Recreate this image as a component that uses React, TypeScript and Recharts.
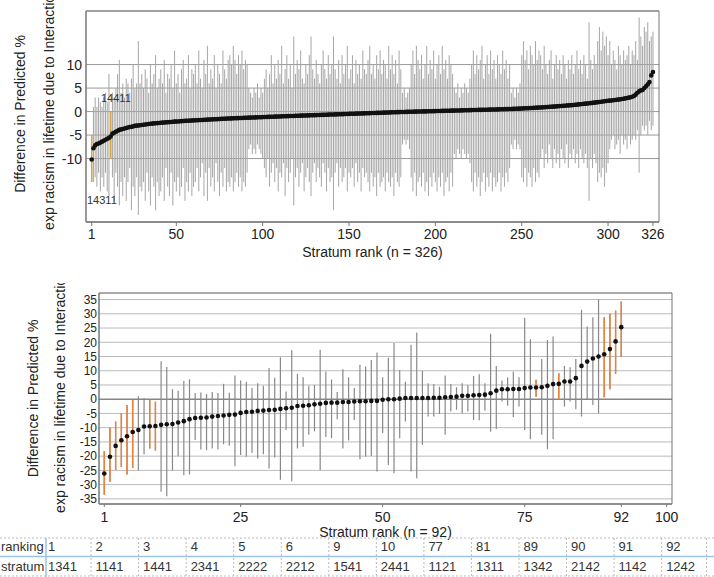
import React from 'react';
import {
  ScatterChart,
  Scatter,
  XAxis,
  YAxis,
  CartesianGrid,
  ErrorBar,
  ReferenceArea,
  ReferenceLine,
} from 'recharts';

// ---- top panel: 326 strata ----
const TOP_DOTS = [
  -10.2, -7.8, -7.2, -6.9, -6.8, -6.6, -6.4, -6.2, -6.0, -5.8,
  -5.6, -5.3, -4.7, -4.5, -4.3, -4.1, -3.9, -3.8, -3.7, -3.6,
  -3.5, -3.4, -3.3, -3.25, -3.15, -3.05, -3.0, -2.95, -2.9, -2.85,
  -2.8, -2.75, -2.7, -2.65, -2.6, -2.56, -2.52, -2.48, -2.45, -2.42,
  -2.39, -2.36, -2.33, -2.3, -2.27, -2.24, -2.21, -2.18, -2.15, -2.12,
  -2.1, -2.07, -2.04, -2.01, -1.98, -1.96, -1.94, -1.92, -1.9, -1.88,
  -1.86, -1.84, -1.82, -1.8, -1.78, -1.76, -1.74, -1.72, -1.7, -1.68,
  -1.66, -1.64, -1.62, -1.6, -1.58, -1.56, -1.54, -1.52, -1.5, -1.48,
  -1.46, -1.45, -1.43, -1.42, -1.4, -1.39, -1.37, -1.36, -1.34, -1.33,
  -1.31, -1.3, -1.28, -1.27, -1.25, -1.24, -1.22, -1.21, -1.2, -1.18,
  -1.17, -1.15, -1.14, -1.12, -1.11, -1.1, -1.08, -1.07, -1.05, -1.04,
  -1.02, -1.01, -1.0, -0.98, -0.97, -0.95, -0.94, -0.93, -0.91, -0.9,
  -0.88, -0.87, -0.86, -0.84, -0.83, -0.82, -0.8, -0.79, -0.78, -0.76,
  -0.75, -0.74, -0.72, -0.71, -0.7, -0.68, -0.67, -0.66, -0.64, -0.63,
  -0.62, -0.6, -0.59, -0.58, -0.56, -0.55, -0.54, -0.52, -0.51, -0.5,
  -0.48, -0.47, -0.46, -0.44, -0.43, -0.42, -0.4, -0.39, -0.38, -0.36,
  -0.35, -0.34, -0.32, -0.31, -0.3, -0.28, -0.27, -0.26, -0.24, -0.23,
  -0.22, -0.2, -0.19, -0.18, -0.16, -0.15, -0.14, -0.12, -0.11, -0.1,
  -0.09, -0.08, -0.07, -0.06, -0.05, -0.04, -0.03, -0.02, -0.01, 0.0,
  0.01, 0.02, 0.03, 0.04, 0.05, 0.06, 0.07, 0.08, 0.09, 0.1,
  0.11, 0.12, 0.13, 0.14, 0.15, 0.16, 0.17, 0.18, 0.19, 0.2,
  0.21, 0.22, 0.23, 0.24, 0.25, 0.26, 0.27, 0.28, 0.29, 0.3,
  0.31, 0.32, 0.33, 0.34, 0.35, 0.36, 0.37, 0.38, 0.39, 0.4,
  0.41, 0.42, 0.43, 0.44, 0.45, 0.46, 0.47, 0.48, 0.5, 0.51,
  0.52, 0.53, 0.55, 0.56, 0.57, 0.59, 0.6, 0.62, 0.63, 0.65,
  0.67, 0.69, 0.71, 0.73, 0.75, 0.77, 0.79, 0.81, 0.83, 0.85,
  0.87, 0.9, 0.92, 0.95, 0.97, 1.0, 1.02, 1.05, 1.08, 1.1,
  1.13, 1.16, 1.19, 1.22, 1.25, 1.28, 1.31, 1.34, 1.37, 1.4,
  1.44, 1.48, 1.52, 1.56, 1.6, 1.64, 1.68, 1.72, 1.76, 1.8,
  1.85, 1.9, 1.95, 2.0, 2.05, 2.1, 2.15, 2.2, 2.25, 2.3,
  2.32, 2.36, 2.4, 2.45, 2.5, 2.55, 2.6, 2.66, 2.72, 2.8,
  2.88, 2.96, 3.05, 3.15, 3.3, 3.6, 4.0, 4.3, 4.5, 4.6,
  5.0, 5.4, 5.8, 6.3, 7.7, 8.4,
];

const TOP_HI = [
  -5, 1, 3, 1, 3, 2, 1, 3, 4, 2,
  8, 0, 4, 3, 5, 8, 11, 4, 6, 3,
  7, 6, 4, 7, 10, 5, 6, 15, 6, 8,
  5, 9, 7, 4, 10, 6, 8, 12, 5, 7,
  9, 6, 11, 4, 8, 7, 10, 5, 13, 6,
  8, 4, 9, 11, 6, 7, 12, 5, 9, 8,
  10, 6, 13, 7, 5, 11, 8, 14, 6, 9,
  7, 12, 5, 10, 8, 6, 13, 9, 7, 11,
  12, 10, 14, 11, 8, 12, 10, 13, 9, 11,
  10, 5, 4, 3, 5, 4, 6, 3, 5, 4,
  7, 9, 5, 8, 12, 6, 10, 7, 11, 8,
  14, 6, 9, 12, 7, 10, 5, 16, 8, 11,
  9, 13, 7, 6, 10, 8, 12, 16, 9, 7,
  11, 8, 6, 10, 13, 9, 7, 12, 8, 10,
  16, 9, 7, 11, 6, 12, 8, 10, 14, 7,
  9, 12, 6, 11, 8, 10, 7, 13, 9, 8,
  11, 14, 8, 10, 7, 12, 9, 13, 8, 11,
  10, 7, 14, 9, 12, 8, 11, 6, 13, 9,
  4, 5, 3, 4, 5, 10, 13, 8, 14, 11,
  9, 12, 7, 10, 14, 8, 11, 9, 13, 7,
  10, 12, 8, 14, 9, 11, 7, 12, 10, 8,
  5, 4, 6, 3, 5, 4, 6, 5, 4, 7,
  10, 13, 8, 12, 9, 11, 14, 7, 10, 12,
  8, 13, 9, 11, 7, 12, 10, 8, 13, 9,
  11, 7, 10, 4, 5, 3, 5, 4, 6, 12,
  15, 11, 13, 9, 14, 12, 10, 15, 11, 13,
  12, 9, 14, 10, 8, 11, 13, 7, 10, 12,
  9, 11, 8, 12, 10, 7, 11, 9, 12, 8,
  10, 13, 9, 11, 8, 12, 10, 7, 19, 11,
  9, 12, 10, 15, 18, 13, 17, 14, 16, 12,
  15, 10, 13, 11, 9, 14, 12, 10, 13, 11,
  12, 14, 10, 13, 12, 15, 11, 20, 16, 14,
  18, 17, 19, 15, 16, 17,
];

const TOP_LO = [
  -15, -15, -14, -16, -13, -17, -14, -16, -13, -17,
  -18, -10, -14, -19, -13, -16, -20, -15, -18, -14,
  -19, -15, -12, -21, -16, -18, -14, -22, -16, -17,
  -15, -19, -13, -17, -20, -14, -16, -21, -15, -18,
  -17, -14, -19, -12, -16, -18, -13, -20, -15, -17,
  -14, -18, -16, -12, -19, -15, -17, -13, -18, -16,
  -15, -12, -17, -14, -11, -18, -13, -19, -12, -16,
  -14, -17, -11, -15, -18, -13, -16, -12, -17, -15,
  -16, -14, -17, -15, -13, -16, -14, -17, -15, -16,
  -13, -8, -7, -9, -8, -9, -7, -8, -9, -10,
  -12, -14, -10, -16, -13, -11, -15, -12, -17, -13,
  -14, -11, -18, -12, -15, -13, -10, -20, -14, -12,
  -16, -13, -11, -17, -14, -12, -15, -18, -13, -11,
  -15, -12, -14, -16, -11, -13, -17, -12, -15, -14,
  -21, -13, -11, -16, -12, -15, -14, -12, -17, -13,
  -14, -12, -16, -11, -15, -13, -17, -12, -14, -13,
  -15, -17, -13, -16, -14, -18, -13, -16, -15, -14,
  -17, -13, -15, -16, -14, -18, -13, -15, -16, -14,
  -7, -6, -7, -6, -8, -14, -17, -13, -18, -15,
  -14, -16, -13, -17, -15, -18, -14, -16, -13, -15,
  -17, -14, -16, -13, -18, -15, -14, -17, -13, -16,
  -9, -10, -8, -9, -10, -8, -9, -10, -9, -11,
  -15, -17, -13, -16, -14, -18, -15, -13, -17, -14,
  -16, -13, -17, -14, -16, -15, -13, -17, -14, -16,
  -13, -15, -12, -7, -8, -6, -8, -7, -8, -14,
  -15, -12, -16, -13, -14, -16, -12, -15, -13, -14,
  -10, -8, -12, -9, -11, -7, -10, -12, -8, -11,
  -9, -12, -8, -10, -11, -7, -12, -9, -10, -8,
  -11, -9, -12, -8, -10, -11, -9, -12, -19, -10,
  -12, -9, -11, -15, -13, -14, -12, -16, -13, -11,
  -8, -6, -5, -8, -7, -6, -9, -5, -7, -6,
  -8, -5, -7, -6, -5, -6, -4, -13, -5, -3,
  -4, -3, -5, -2, -4, -3,
];

const TOP_MARKED = [1, 12];
const TOP_X_TICKS = [1, 50, 100, 150, 200, 250, 300, 326];
const TOP_Y_TICKS = [-10, -5, 0, 5, 10];

// ---- bottom panel: 92 strata ----
const BOT_DOTS = [
  -26.1, -20.2, -16.4, -14.4, -13.0, -11.5, -10.8, -9.6, -9.5, -9.4,
  -9.0, -8.8, -8.7, -8.2, -7.7, -7.0, -6.6, -6.5, -6.4, -6.1,
  -5.9, -5.7, -5.5, -5.4, -4.8, -4.5, -4.4, -4.1, -4.0, -3.8,
  -3.7, -3.4, -3.2, -3.0, -2.4, -2.3, -2.1, -1.8, -1.6, -1.3,
  -1.2, -1.2, -1.0, -1.0, -0.8, -0.7, -0.7, -0.6, -0.6, -0.2,
  0.0, 0.0, 0.2, 0.4, 0.4, 0.4, 0.4, 0.4, 0.5, 0.5,
  0.7, 0.8, 0.9, 1.2, 1.2, 1.4, 1.5, 1.6, 2.1, 3.0,
  3.5, 3.5, 3.6, 3.6, 3.9, 4.1, 4.1, 4.2, 4.7, 5.3,
  5.4, 6.2, 6.2, 7.4, 11.7, 13.2, 14.3, 15.0, 15.8, 17.6,
  20.3, 25.3,
];

const BOT_HI = [
  -18.2, -9.9, -7.8, -5.0, -2.0, -0.2, 1.0, 0.4, -0.2, -0.9,
  13.3, 11.3, 3.5, 3.0, 6.4, 7.0, 2.2, 2.4, 1.8, 2.5,
  2.2, 5.4, 2.3, 8.3, 6.6, 6.1, 3.9, 5.6, 4.7, 11.0,
  7.5, 14.7, 2.7, 17.2, 8.9, 7.7, 4.7, 5.0, 17.4, 9.7,
  6.9, 2.5, 10.5, 7.7, 3.9, 12.1, 11.5, 13.8, 16.4, 7.7,
  14.6, 19.7, 10.3, 6.1, 19.1, 23.4, 10.0, 5.6, 5.3, 4.4,
  8.3, 5.3, 4.2, 5.6, 5.0, 8.2, 8.8, 5.6, 23.0, 11.7,
  6.6, 7.7, 9.7, 7.7, 28.5, 21.1, 6.8, 14.1, 20.8, 22.0,
  9.1, 11.7, 11.2, 14.1, 31.4, 25.5, 28.8, 35.1, 28.8, 30.0,
  31.1, 34.3,
];

const BOT_LO = [
  -33.6, -29.0, -24.9, -23.8, -26.4, -24.2, -25.0, -19.3, -17.3, -18.0,
  -32.5, -34.1, -25.0, -20.0, -26.7, -26.4, -14.3, -17.7, -17.9, -17.3,
  -17.6, -15.8, -16.3, -23.5, -19.6, -20.2, -18.9, -20.8, -19.3, -24.3,
  -20.5, -28.3, -10.8, -28.8, -17.3, -16.7, -12.5, -11.3, -24.9, -13.3,
  -13.7, -7.0, -17.3, -14.5, -7.3, -21.1, -20.1, -19.9, -25.4, -11.9,
  -23.1, -26.0, -13.7, -7.8, -25.4, -27.8, -16.0, -6.1, -6.1, -5.2,
  -12.5, -4.3, -3.7, -4.9, -4.3, -7.3, -7.4, -4.0, -11.4, -10.5,
  -0.8, -2.3, -6.3, -2.6, -10.8, -14.1, 0.9, -12.5, -17.6, -14.1,
  0.0, -2.6, -0.8, -3.5, -6.1, -0.2, -2.0, -4.9, 0.7, 3.5,
  8.9, 14.8,
];

const BOT_MARKED = [1, 2, 3, 4, 5, 6, 9, 10, 77, 81, 89, 90, 91, 92];
const BOT_X_TICKS = [1, 25, 50, 75, 92, 100];
const BOT_Y_TICKS = [-35, -30, -25, -20, -15, -10, -5, 0, 5, 10, 15, 20, 25, 30, 35];

const Y_LABEL_1 = 'Difference in Predicted %';
const Y_LABEL_2 = 'exp racism in lifetime due to Interaction';

const TABLE_RANKING = ['1', '2', '3', '4', '5', '6', '9', '10', '77', '81', '89', '90', '91', '92'];
const TABLE_STRATUM = ['1341', '1141', '1441', '2341', '2222', '2212', '1541', '2441', '1121', '1311', '1342', '2142', '1142', '1242'];

const FONT = '"Liberation Sans", Arial, sans-serif';

const toRows = (dots: number[], hi: number[], lo: number[]) =>
  dots.map((v, i) => ({ x: i + 1, y: v, err: [v - lo[i], hi[i] - v] }));

const topRows = toRows(TOP_DOTS, TOP_HI, TOP_LO);
const botRows = toRows(BOT_DOTS, BOT_HI, BOT_LO);
const topMarkedRows = topRows.filter((d) => TOP_MARKED.includes(d.x));
const botMarkedRows = botRows.filter((d) => BOT_MARKED.includes(d.x));

const noShape = () => <g />;
const dotShape = (r: number) => (p: any) => <circle cx={p.cx} cy={p.cy} r={r} fill="#111" />;

const tickStyle = { fontSize: 14, fill: '#222', fontFamily: FONT };
const denseTickStyle = { fontSize: 12, fill: '#222', fontFamily: FONT };

const TOP_X_DOMAIN = [-2.3, 329.5];
const TOP_Y_DOMAIN = [-23.5, 21.4];
const BOT_X_DOMAIN = [0.07, 100.93];
const BOT_Y_DOMAIN = [-36.8, 37.3];

export default function App() {
  const colX = TABLE_RANKING.map((_, i) => 48 + i * 47.55);

  return (
    <div style={{ position: 'absolute', left: 0, top: 0, width: 714, height: 577, background: '#fff', overflow: 'hidden' }}>
      <div style={{ position: 'absolute', left: 0, top: 0 }}>
        <ScatterChart width={714} height={260} margin={{ top: 11, right: 55, bottom: 0, left: 0 }}>
          <CartesianGrid vertical={false} stroke="#999" />
          <XAxis
            dataKey="x"
            type="number"
            domain={TOP_X_DOMAIN}
            ticks={TOP_X_TICKS}
            interval={0}
            allowDataOverflow
            height={38}
            tickSize={4}
            tickMargin={3}
            tick={tickStyle}
            stroke="#777"
          />
          <YAxis
            dataKey="y"
            type="number"
            domain={TOP_Y_DOMAIN}
            ticks={TOP_Y_TICKS}
            interval={0}
            allowDataOverflow
            width={86}
            tickLine={false}
            tickSize={0}
            tickMargin={4}
            tick={tickStyle}
            stroke="#777"
          />
          <Scatter data={topRows} shape={noShape} isAnimationActive={false}>
            <ErrorBar dataKey="err" direction="y" width={0} stroke="#a6a6a6" strokeWidth={1} />
          </Scatter>
          <Scatter data={topMarkedRows} shape={noShape} isAnimationActive={false}>
            <ErrorBar dataKey="err" direction="y" width={0} stroke="#d6a540" strokeWidth={1.5} />
          </Scatter>
          <Scatter data={topRows} shape={dotShape(2.3)} isAnimationActive={false} />
          <ReferenceArea
            x1={TOP_X_DOMAIN[0]}
            x2={TOP_X_DOMAIN[1]}
            y1={TOP_Y_DOMAIN[0]}
            y2={TOP_Y_DOMAIN[1]}
            fill="#fff"
            fillOpacity={0}
            stroke="#777"
            ifOverflow="visible"
          />
        </ScatterChart>
      </div>

      <div style={{ position: 'absolute', left: 0, top: 280 }}>
        <ScatterChart width={714} height={260} margin={{ top: 13, right: 42, bottom: 0, left: 0 }}>
          <CartesianGrid vertical={false} stroke="#bbb" />
          <ReferenceLine y={0} stroke="#666" />
          <XAxis
            dataKey="x"
            type="number"
            domain={BOT_X_DOMAIN}
            ticks={BOT_X_TICKS}
            interval={0}
            allowDataOverflow
            height={36}
            tickSize={3}
            tickMargin={5}
            tick={tickStyle}
            stroke="#777"
          />
          <YAxis
            dataKey="y"
            type="number"
            domain={BOT_Y_DOMAIN}
            ticks={BOT_Y_TICKS}
            interval={0}
            allowDataOverflow
            width={99}
            tickLine={false}
            tickSize={0}
            tickMargin={2}
            tick={denseTickStyle}
            stroke="#777"
          />
          <Scatter data={botRows} shape={noShape} isAnimationActive={false}>
            <ErrorBar dataKey="err" direction="y" width={0} stroke="#888" strokeWidth={1.2} />
          </Scatter>
          <Scatter data={botMarkedRows} shape={noShape} isAnimationActive={false}>
            <ErrorBar dataKey="err" direction="y" width={0} stroke="#e8823c" strokeWidth={1.5} />
          </Scatter>
          <Scatter data={botRows} shape={dotShape(2.3)} isAnimationActive={false} />
          <ReferenceArea
            x1={BOT_X_DOMAIN[0]}
            x2={BOT_X_DOMAIN[1]}
            y1={BOT_Y_DOMAIN[0]}
            y2={BOT_Y_DOMAIN[1]}
            fill="#fff"
            fillOpacity={0}
            stroke="#777"
            ifOverflow="visible"
          />
        </ScatterChart>
      </div>

      <svg width={714} height={577} style={{ position: 'absolute', left: 0, top: 0, pointerEvents: 'none' }}>
        <defs>
          <clipPath id="lowerClip">
            <rect x={0} y={283} width={714} height={294} />
          </clipPath>
        </defs>
        <g fontFamily={FONT} fontSize={14} fill="#222">
          <text transform="translate(25,114) rotate(-90)" textAnchor="middle">{Y_LABEL_1}</text>
          <text transform="translate(54,108.5) rotate(-90)" textAnchor="middle">{Y_LABEL_2}</text>
          <g clipPath="url(#lowerClip)">
            <text transform="translate(38,398.5) rotate(-90)" textAnchor="middle">{Y_LABEL_1}</text>
            <text transform="translate(65,391.5) rotate(-90)" textAnchor="middle">{Y_LABEL_2}</text>
          </g>
          <text x={372.5} y={257} textAnchor="middle">Stratum rank (n = 326)</text>
          <text x={385.5} y={536.5} textAnchor="middle">Stratum rank (n = 92)</text>
        </g>
        <g fontFamily={FONT} fontSize={11} fill="#333">
          <text x={101} y={101.5}>14411</text>
          <text x={87} y={204}>14311</text>
        </g>

        {/* stratum lookup table */}
        <g>
          <line x1={0} x2={714} y1={538} y2={538} stroke="#bbb" strokeDasharray="2 2" />
          <line x1={0} x2={714} y1={556.5} y2={556.5} stroke="#9dc3e6" strokeWidth={1.5} />
          <line x1={0} x2={714} y1={576} y2={576} stroke="#bbb" strokeDasharray="2 2" />
          <line x1={46} x2={46} y1={538} y2={577} stroke="#9dc3e6" strokeWidth={1.5} />
          {colX.slice(1).concat([711]).map((x, i) => (
            <line key={i} x1={x - 4.5} x2={x - 4.5} y1={538} y2={577} stroke="#bbb" strokeDasharray="2 2" />
          ))}
          <g fontFamily={FONT} fontSize={13} fill="#333">
            <text x={1} y={551}>ranking</text>
            <text x={1} y={571}>stratum</text>
            {TABLE_RANKING.map((t, i) => (
              <text key={'r' + i} x={colX[i]} y={551}>{t}</text>
            ))}
            {TABLE_STRATUM.map((t, i) => (
              <text key={'s' + i} x={colX[i]} y={571}>{t}</text>
            ))}
          </g>
        </g>
      </svg>
    </div>
  );
}
